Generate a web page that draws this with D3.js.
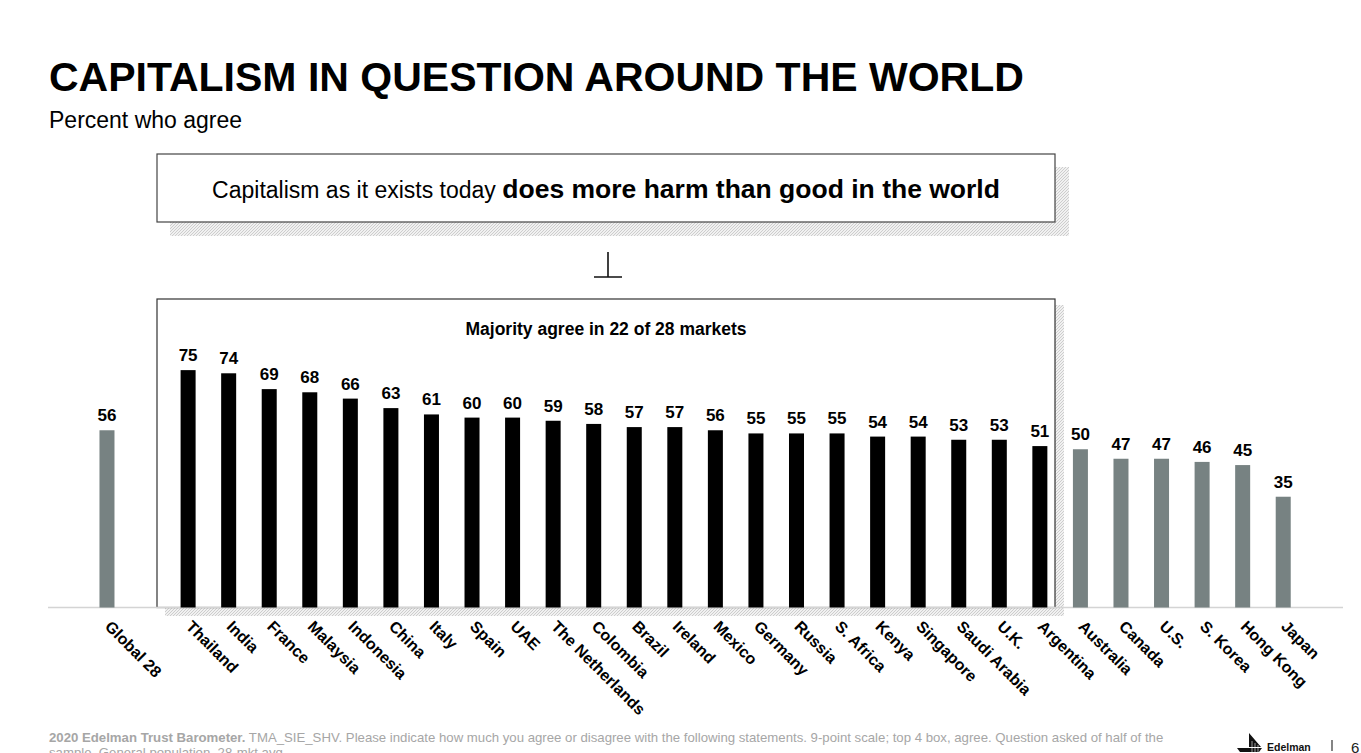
<!DOCTYPE html>
<html>
<head>
<meta charset="utf-8">
<script src="https://cdn.jsdelivr.net/npm/d3@7"></script>
<style>
  html, body { margin: 0; padding: 0; background: #fff; }
  svg { display: block; font-family: "Liberation Sans", Arial, sans-serif; }
</style>
</head>
<body>
<svg id="chart" width="1361" height="753"></svg>
<script>
// data
var markets = ["Global 28", "Thailand", "India", "France", "Malaysia", "Indonesia", "China", "Italy",
  "Spain", "UAE", "The Netherlands", "Colombia", "Brazil", "Ireland", "Mexico", "Germany", "Russia",
  "S. Africa", "Kenya", "Singapore", "Saudi Arabia", "U.K.", "Argentina", "Australia", "Canada",
  "U.S.", "S. Korea", "Hong Kong", "Japan"];
var agree = [56, 75, 74, 69, 68, 66, 63, 61, 60, 60, 59, 58, 57, 57, 56, 55, 55, 55, 54, 54, 53, 53, 51,
  50, 47, 47, 46, 45, 35];
var majorityMarkets = ["Thailand", "India", "France", "Malaysia", "Indonesia", "China", "Italy",
  "Spain", "UAE", "The Netherlands", "Colombia", "Brazil", "Ireland", "Mexico", "Germany", "Russia",
  "S. Africa", "Kenya", "Singapore", "Saudi Arabia", "U.K.", "Argentina"];

var rows = markets.map(function(m, i){ return {name: m, value: agree[i]}; });

var svg = d3.select("#chart");
var black = "#000", grey = "#778282";

// hatch pattern for the box shadows
var defs = svg.append("defs");
var pat = defs.append("pattern").attr("id", "hatch").attr("patternUnits", "userSpaceOnUse")
  .attr("width", 3).attr("height", 3);
pat.append("rect").attr("width", 3).attr("height", 3).attr("fill", "#f1f1f1");
pat.append("path").attr("d", "M0,3 L3,0 M-1,1 L1,-1 M2,4 L4,2").attr("stroke", "#c8c8c8").attr("stroke-width", 0.9);

// title
svg.append("text").attr("x", 49).attr("y", 91).attr("font-size", 41).attr("font-weight", "bold")
  .text("CAPITALISM IN QUESTION AROUND THE WORLD");
svg.append("text").attr("x", 49).attr("y", 128).attr("font-size", 23)
  .text("Percent who agree");

// statement box
svg.append("rect").attr("x", 170).attr("y", 167).attr("width", 899).attr("height", 69).attr("fill", "url(#hatch)");
svg.append("rect").attr("x", 157).attr("y", 154).attr("width", 898).attr("height", 68)
  .attr("fill", "#fff").attr("stroke", "#444").attr("stroke-width", 1.2);
var st = svg.append("text").attr("x", 606).attr("y", 198).attr("text-anchor", "middle");
st.append("tspan").attr("font-size", 23).text("Capitalism as it exists today ");
st.append("tspan").attr("font-size", 26.5).attr("font-weight", "bold").text("does more harm than good in the world");

// connector glyph
svg.append("path").attr("d", "M608,252 V277 M594,277 H622").attr("stroke", "#111").attr("stroke-width", 1.6).attr("fill", "none");

// scales: one empty slot between Global and the markets
var slots = ["Global 28", "_gap"].concat(markets.slice(1));
var x = d3.scaleBand().domain(slots).range([86.7, 1303.5]).paddingInner(0.63).paddingOuter(0.315);
var y = d3.scaleLinear().domain([0, 100]).range([607.5, 291]);

// majority box
svg.append("rect").attr("x", 165).attr("y", 305).attr("width", 899).attr("height", 311).attr("fill", "url(#hatch)");
svg.append("rect").attr("x", 157).attr("y", 299).attr("width", 898).attr("height", 308.5)
  .attr("fill", "#fff").attr("stroke", "#333").attr("stroke-width", 1.2);
svg.append("text").attr("x", 606).attr("y", 335).attr("text-anchor", "middle")
  .attr("font-size", 17.5).attr("font-weight", "bold").text("Majority agree in 22 of 28 markets");

// baseline
svg.append("line").attr("x1", 48).attr("x2", 1343).attr("y1", 607.5).attr("y2", 607.5)
  .attr("stroke", "#d4d4d4").attr("stroke-width", 1.5);

// bars
svg.append("g").selectAll("rect").data(rows).join("rect")
  .attr("x", function(d){ return x(d.name); })
  .attr("width", x.bandwidth())
  .attr("y", function(d){ return y(d.value); })
  .attr("height", function(d){ return y(0) - y(d.value); })
  .attr("fill", function(d){ return majorityMarkets.indexOf(d.name) >= 0 ? black : grey; });

// value labels
svg.append("g").selectAll("text").data(rows).join("text")
  .attr("x", function(d){ return x(d.name) + x.bandwidth() / 2; })
  .attr("y", function(d){ return y(d.value) - 9; })
  .attr("text-anchor", "middle").attr("font-size", 17).attr("font-weight", "bold")
  .text(function(d){ return d.value; });

// category labels via axis
var axis = d3.axisBottom(x).tickSize(0).tickPadding(0).tickFormat(function(d){ return d === "_gap" ? "" : d; });
var ax = svg.append("g").attr("transform", "translate(0,607.5)").call(axis);
ax.select(".domain").remove();
ax.selectAll("text")
  .attr("font-family", "Liberation Sans, Arial, sans-serif").attr("font-size", 16).attr("font-weight", "bold")
  .attr("fill", "#000").attr("text-anchor", "start")
  .attr("transform", "translate(-3,20) rotate(45)").attr("dy", "0").attr("y", 0);

// footer
var ft = svg.append("text").attr("x", 49).attr("y", 742).attr("font-size", 13.2).attr("fill", "#a6a6a6");
ft.append("tspan").attr("font-weight", "bold").text("2020 Edelman Trust Barometer.");
ft.append("tspan").text(" TMA_SIE_SHV. Please indicate how much you agree or disagree with the following statements. 9-point scale; top 4 box, agree. Question asked of half of the");
svg.append("text").attr("x", 49).attr("y", 757).attr("font-size", 13.2).attr("fill", "#a6a6a6")
  .text("sample. General population, 28-mkt avg.");

// Edelman mark
var logo = svg.append("g").attr("transform", "translate(1237,733)");
logo.append("path").attr("d", "M12,0 L12,14 L24,14 Z M0,15 L25,15 L22,19 L3,19 Z").attr("fill", "#111");
logo.append("path").attr("d", "M15,8 V19 M18,10 V19 M21,12 V19").attr("stroke", "#fff").attr("stroke-width", 0.6);
svg.append("text").attr("x", 1267).attr("y", 751).attr("font-size", 10.5).attr("font-weight", "bold").attr("fill", "#111").text("Edelman");
svg.append("line").attr("x1", 1332).attr("x2", 1332).attr("y1", 740).attr("y2", 751).attr("stroke", "#333").attr("stroke-width", 1.2);
svg.append("text").attr("x", 1351).attr("y", 753).attr("font-size", 15).attr("fill", "#222").text("6");
</script>
</body>
</html>
